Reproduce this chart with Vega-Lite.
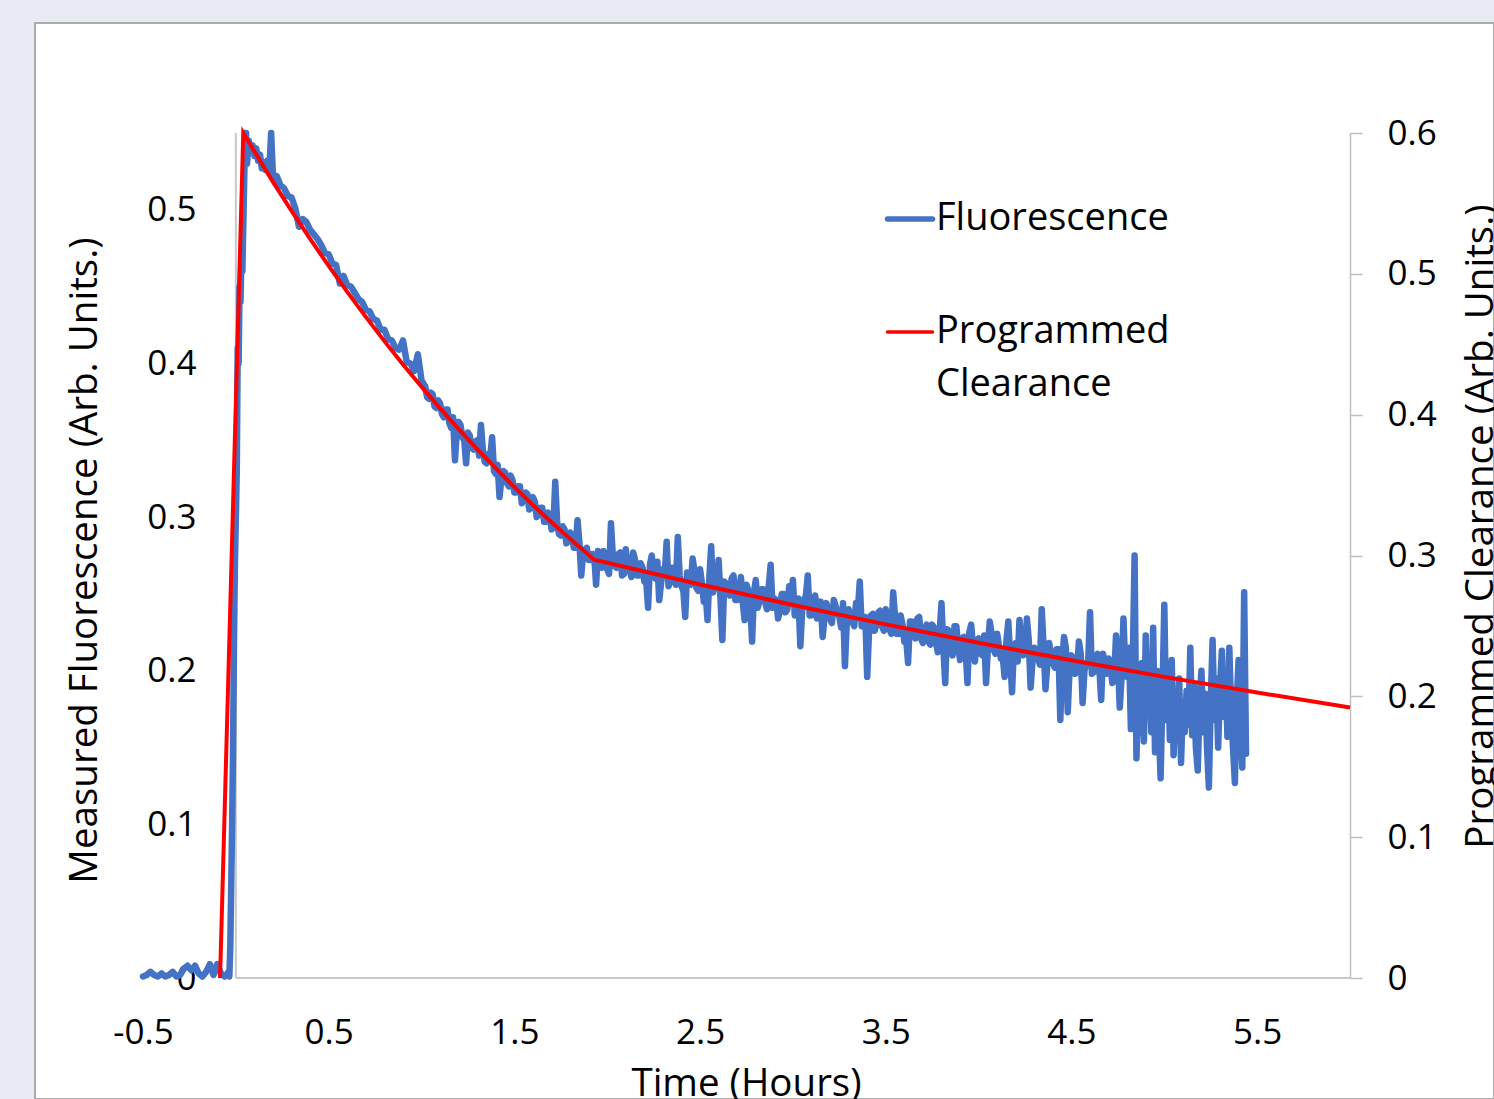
{
"$schema": "https://vega.github.io/schema/vega-lite/v6.json",
"width": 1459, "height": 1076,
"autosize": "none",
"padding": {"left": 35, "top": 23, "right": 0, "bottom": 0},
"background": "#e8ebf4",
"config": {
  "view": {"fill": "#ffffff", "stroke": "#acacac", "strokeWidth": 2},
  "font": "Open Sans",
  "axis": {"labelFont": "Open Sans", "titleFont": "Open Sans", "labelFontSize": 35, "titleFontSize": 38.5, "labelColor": "#000000", "titleColor": "#000000", "titleFontWeight": "normal", "grid": false, "labelFlush": false, "labelOverlap": false, "labelBound": false}
},
"datasets": {
"fluor": [
{"t":-0.5,"f":0.001},{"t":-0.48,"f":0.002},{"t":-0.46,"f":0.004},{"t":-0.44,"f":0.002},{"t":-0.42,"f":0.001},{"t":-0.4,"f":0.003},{"t":-0.38,"f":0.001},{"t":-0.36,"f":0.002},{"t":-0.34,"f":0.004},{"t":-0.32,"f":0.001},{"t":-0.3,"f":0.002},{"t":-0.28,"f":0.006},{"t":-0.26,"f":0.008},{"t":-0.24,"f":0.005},{"t":-0.22,"f":0.008},{"t":-0.2,"f":0.003},{"t":-0.18,"f":0.001},{"t":-0.16,"f":0.004},{"t":-0.14,"f":0.009},{"t":-0.12,"f":0.002},{"t":-0.1,"f":0.009},{"t":-0.08,"f":0.003},{"t":-0.06,"f":0.001},{"t":-0.05,"f":0.002},{"t":-0.04,"f":0.004},{"t":-0.035,"f":0.001},
{"t":-0.03,"f":0.02},{"t":-0.02,"f":0.1},{"t":-0.015,"f":0.15},{"t":-0.01,"f":0.22},{"t":-0.005,"f":0.27},{"t":0,"f":0.3},{"t":0.005,"f":0.33},{"t":0.01,"f":0.41},{"t":0.015,"f":0.4},{"t":0.02,"f":0.45},{"t":0.025,"f":0.44},{"t":0.03,"f":0.47},{"t":0.035,"f":0.46},{"t":0.04,"f":0.49},{"t":0.045,"f":0.52},{"t":0.05,"f":0.55},{"t":0.055,"f":0.555},{"t":0.06,"f":0.53},
{"t":0.07,"f":0.545},{"t":0.08,"f":0.538},{"t":0.09,"f":0.542},{"t":0.1,"f":0.535},{"t":0.11,"f":0.54},{"t":0.12,"f":0.532},{"t":0.13,"f":0.536},{"t":0.14,"f":0.527},{"t":0.15,"f":0.531},{"t":0.16,"f":0.526},{"t":0.17,"f":0.532},{"t":0.18,"f":0.524},{"t":0.19,"f":0.555},{"t":0.2,"f":0.522},{"t":0.21,"f":0.518},
{"t":0.22,"f":0.522},{"t":0.24,"f":0.516},{"t":0.26,"f":0.514},{"t":0.28,"f":0.509},{"t":0.3,"f":0.508},{"t":0.32,"f":0.501},{"t":0.34,"f":0.489},{"t":0.36,"f":0.494},{"t":0.38,"f":0.492},{"t":0.4,"f":0.487},{"t":0.42,"f":0.484},{"t":0.44,"f":0.481},{"t":0.46,"f":0.477},{"t":0.48,"f":0.472},{"t":0.5,"f":0.471},{"t":0.52,"f":0.465},{"t":0.54,"f":0.464},{"t":0.56,"f":0.452},{"t":0.58,"f":0.457},{"t":0.6,"f":0.451},{"t":0.62,"f":0.45},{"t":0.64,"f":0.446},{"t":0.66,"f":0.442},{"t":0.68,"f":0.44},{"t":0.7,"f":0.435},{"t":0.72,"f":0.434},{"t":0.74,"f":0.429},{"t":0.76,"f":0.428},{"t":0.78,"f":0.422},{"t":0.8,"f":0.422},{"t":0.82,"f":0.416},{"t":0.84,"f":0.415},{"t":0.86,"f":0.41},{"t":0.88,"f":0.409},{"t":0.9,"f":0.415},{"t":0.92,"f":0.401},{"t":0.94,"f":0.4},{"t":0.96,"f":0.395},{"t":0.98,"f":0.406},{"t":1.0,"f":0.389},
{"t":1.01,"f":0.387},{"t":1.02,"f":0.385},{"t":1.03,"f":0.378},{"t":1.04,"f":0.377},{"t":1.05,"f":0.381},{"t":1.06,"f":0.38},{"t":1.07,"f":0.372},{"t":1.08,"f":0.371},{"t":1.09,"f":0.376},{"t":1.1,"f":0.374},{"t":1.11,"f":0.367},{"t":1.12,"f":0.365},{"t":1.13,"f":0.37},{"t":1.14,"f":0.37},{"t":1.15,"f":0.361},{"t":1.16,"f":0.358},{"t":1.17,"f":0.365},{"t":1.18,"f":0.337},{"t":1.19,"f":0.356},{"t":1.2,"f":0.362},{"t":1.21,"f":0.36},{"t":1.22,"f":0.352},{"t":1.23,"f":0.35},{"t":1.24,"f":0.335},{"t":1.25,"f":0.355},{"t":1.26,"f":0.353},{"t":1.27,"f":0.345},{"t":1.28,"f":0.344},{"t":1.29,"f":0.349},{"t":1.3,"f":0.35},{"t":1.31,"f":0.34},{"t":1.32,"f":0.36},{"t":1.33,"f":0.344},{"t":1.34,"f":0.336},{"t":1.35,"f":0.335},{"t":1.36,"f":0.341},{"t":1.37,"f":0.339},{"t":1.38,"f":0.352},{"t":1.39,"f":0.33},{"t":1.4,"f":0.328},{"t":1.41,"f":0.334},{"t":1.42,"f":0.313},{"t":1.43,"f":0.325},{"t":1.44,"f":0.33},{"t":1.45,"f":0.329},{"t":1.46,"f":0.322},{"t":1.47,"f":0.32},{"t":1.48,"f":0.327},{"t":1.49,"f":0.324},{"t":1.5,"f":0.316},{"t":1.51,"f":0.316},{"t":1.52,"f":0.32},{"t":1.53,"f":0.32},{"t":1.54,"f":0.309},{"t":1.55,"f":0.311},{"t":1.56,"f":0.316},{"t":1.57,"f":0.315},{"t":1.58,"f":0.305},{"t":1.59,"f":0.306},{"t":1.6,"f":0.313},{"t":1.61,"f":0.31},{"t":1.62,"f":0.3},{"t":1.63,"f":0.302},{"t":1.64,"f":0.306},{"t":1.65,"f":0.306},{"t":1.66,"f":0.297},{"t":1.67,"f":0.297},{"t":1.68,"f":0.303},{"t":1.69,"f":0.301},{"t":1.7,"f":0.292},{"t":1.71,"f":0.293},{"t":1.72,"f":0.323},{"t":1.73,"f":0.297},{"t":1.74,"f":0.289},{"t":1.75,"f":0.288},{"t":1.76,"f":0.294},{"t":1.77,"f":0.292},{"t":1.78,"f":0.283},{"t":1.79,"f":0.284},{"t":1.8,"f":0.29},{"t":1.81,"f":0.288},{"t":1.82,"f":0.28},{"t":1.83,"f":0.28},{"t":1.84,"f":0.298},{"t":1.85,"f":0.284},{"t":1.86,"f":0.262},{"t":1.87,"f":0.276},{"t":1.88,"f":0.279},{"t":1.89,"f":0.28},{"t":1.9,"f":0.272},{"t":1.91,"f":0.272},{"t":1.92,"f":0.276},{"t":1.93,"f":0.275},{"t":1.94,"f":0.256},{"t":1.95,"f":0.278},{"t":1.96,"f":0.27},{"t":1.97,"f":0.267},{"t":1.98,"f":0.278},{"t":1.99,"f":0.273},{"t":2.0,"f":0.266},
{"t":2.01,"f":0.263},{"t":2.02,"f":0.296},{"t":2.03,"f":0.275},{"t":2.04,"f":0.268},{"t":2.05,"f":0.267},{"t":2.06,"f":0.276},{"t":2.07,"f":0.277},{"t":2.08,"f":0.262},{"t":2.09,"f":0.263},{"t":2.1,"f":0.279},{"t":2.11,"f":0.268},{"t":2.12,"f":0.266},{"t":2.13,"f":0.261},{"t":2.14,"f":0.277},{"t":2.15,"f":0.272},{"t":2.16,"f":0.262},{"t":2.17,"f":0.262},{"t":2.18,"f":0.27},{"t":2.19,"f":0.267},{"t":2.2,"f":0.258},{"t":2.21,"f":0.258},{"t":2.22,"f":0.241},{"t":2.23,"f":0.269},{"t":2.24,"f":0.275},{"t":2.25,"f":0.262},{"t":2.26,"f":0.26},{"t":2.27,"f":0.271},{"t":2.28,"f":0.246},{"t":2.29,"f":0.257},{"t":2.3,"f":0.266},{"t":2.31,"f":0.263},{"t":2.32,"f":0.284},{"t":2.33,"f":0.255},{"t":2.34,"f":0.258},{"t":2.35,"f":0.267},{"t":2.36,"f":0.265},{"t":2.37,"f":0.256},{"t":2.38,"f":0.287},{"t":2.39,"f":0.262},{"t":2.4,"f":0.255},{"t":2.41,"f":0.252},{"t":2.42,"f":0.235},{"t":2.43,"f":0.264},{"t":2.44,"f":0.262},{"t":2.45,"f":0.256},{"t":2.46,"f":0.273},{"t":2.47,"f":0.265},{"t":2.48,"f":0.254},{"t":2.49,"f":0.252},{"t":2.5,"f":0.266},{"t":2.51,"f":0.257},{"t":2.52,"f":0.245},{"t":2.53,"f":0.25},{"t":2.54,"f":0.233},{"t":2.55,"f":0.261},{"t":2.56,"f":0.281},{"t":2.57,"f":0.251},{"t":2.58,"f":0.256},{"t":2.59,"f":0.256},{"t":2.6,"f":0.272},{"t":2.61,"f":0.247},{"t":2.62,"f":0.22},{"t":2.63,"f":0.258},{"t":2.64,"f":0.257},{"t":2.65,"f":0.25},{"t":2.66,"f":0.249},{"t":2.67,"f":0.26},{"t":2.68,"f":0.262},{"t":2.69,"f":0.246},{"t":2.7,"f":0.246},{"t":2.71,"f":0.252},{"t":2.72,"f":0.261},{"t":2.73,"f":0.244},{"t":2.74,"f":0.233},{"t":2.75,"f":0.256},{"t":2.76,"f":0.252},{"t":2.77,"f":0.245},{"t":2.78,"f":0.219},{"t":2.79,"f":0.251},{"t":2.8,"f":0.259},{"t":2.81,"f":0.241},{"t":2.82,"f":0.245},{"t":2.83,"f":0.253},{"t":2.84,"f":0.253},{"t":2.85,"f":0.245},{"t":2.86,"f":0.24},{"t":2.87,"f":0.255},{"t":2.88,"f":0.269},{"t":2.89,"f":0.241},{"t":2.9,"f":0.247},{"t":2.91,"f":0.246},{"t":2.92,"f":0.234},{"t":2.93,"f":0.239},{"t":2.94,"f":0.25},{"t":2.95,"f":0.25},{"t":2.96,"f":0.238},{"t":2.97,"f":0.24},{"t":2.98,"f":0.255},{"t":2.99,"f":0.245},{"t":3.0,"f":0.259},
{"t":3.01,"f":0.236},{"t":3.02,"f":0.24},{"t":3.03,"f":0.247},{"t":3.04,"f":0.216},{"t":3.05,"f":0.24},{"t":3.06,"f":0.246},{"t":3.07,"f":0.249},{"t":3.08,"f":0.262},{"t":3.09,"f":0.236},{"t":3.1,"f":0.236},{"t":3.11,"f":0.241},{"t":3.12,"f":0.249},{"t":3.13,"f":0.234},{"t":3.14,"f":0.237},{"t":3.15,"f":0.245},{"t":3.16,"f":0.222},{"t":3.17,"f":0.234},{"t":3.18,"f":0.244},{"t":3.19,"f":0.24},{"t":3.2,"f":0.234},{"t":3.21,"f":0.231},{"t":3.22,"f":0.246},{"t":3.23,"f":0.242},{"t":3.24,"f":0.238},{"t":3.25,"f":0.235},{"t":3.26,"f":0.228},{"t":3.27,"f":0.244},{"t":3.28,"f":0.203},{"t":3.29,"f":0.231},{"t":3.3,"f":0.24},{"t":3.31,"f":0.236},{"t":3.32,"f":0.232},{"t":3.33,"f":0.229},{"t":3.34,"f":0.244},{"t":3.35,"f":0.24},{"t":3.36,"f":0.258},{"t":3.37,"f":0.229},{"t":3.38,"f":0.23},{"t":3.39,"f":0.235},{"t":3.4,"f":0.196},{"t":3.41,"f":0.226},{"t":3.42,"f":0.236},{"t":3.43,"f":0.237},{"t":3.44,"f":0.226},{"t":3.45,"f":0.23},{"t":3.46,"f":0.238},{"t":3.47,"f":0.239},{"t":3.48,"f":0.229},{"t":3.49,"f":0.226},{"t":3.5,"f":0.24},{"t":3.51,"f":0.231},{"t":3.52,"f":0.227},{"t":3.53,"f":0.224},{"t":3.54,"f":0.251},{"t":3.55,"f":0.235},{"t":3.56,"f":0.224},{"t":3.57,"f":0.224},{"t":3.58,"f":0.236},{"t":3.59,"f":0.23},{"t":3.6,"f":0.219},{"t":3.61,"f":0.221},{"t":3.62,"f":0.205},{"t":3.63,"f":0.232},{"t":3.64,"f":0.232},{"t":3.65,"f":0.225},{"t":3.66,"f":0.221},{"t":3.67,"f":0.234},{"t":3.68,"f":0.235},{"t":3.69,"f":0.221},{"t":3.7,"f":0.218},{"t":3.71,"f":0.226},{"t":3.72,"f":0.23},{"t":3.73,"f":0.219},{"t":3.74,"f":0.217},{"t":3.75,"f":0.23},{"t":3.76,"f":0.228},{"t":3.77,"f":0.219},{"t":3.78,"f":0.212},{"t":3.79,"f":0.225},{"t":3.8,"f":0.244},{"t":3.81,"f":0.216},{"t":3.82,"f":0.192},{"t":3.83,"f":0.227},{"t":3.84,"f":0.226},{"t":3.85,"f":0.22},{"t":3.86,"f":0.21},{"t":3.87,"f":0.229},{"t":3.88,"f":0.229},{"t":3.89,"f":0.216},{"t":3.9,"f":0.207},{"t":3.91,"f":0.221},{"t":3.92,"f":0.222},{"t":3.93,"f":0.214},{"t":3.94,"f":0.192},{"t":3.95,"f":0.225},{"t":3.96,"f":0.23},{"t":3.97,"f":0.214},{"t":3.98,"f":0.206},{"t":3.99,"f":0.22},{"t":4.0,"f":0.221},
{"t":4.01,"f":0.211},{"t":4.02,"f":0.21},{"t":4.03,"f":0.223},{"t":4.04,"f":0.192},{"t":4.05,"f":0.215},{"t":4.06,"f":0.232},{"t":4.07,"f":0.224},{"t":4.08,"f":0.214},{"t":4.09,"f":0.211},{"t":4.1,"f":0.224},{"t":4.11,"f":0.216},{"t":4.12,"f":0.208},{"t":4.13,"f":0.209},{"t":4.14,"f":0.196},{"t":4.15,"f":0.22},{"t":4.16,"f":0.232},{"t":4.17,"f":0.209},{"t":4.18,"f":0.186},{"t":4.19,"f":0.215},{"t":4.2,"f":0.218},{"t":4.21,"f":0.206},{"t":4.22,"f":0.233},{"t":4.23,"f":0.218},{"t":4.24,"f":0.21},{"t":4.25,"f":0.211},{"t":4.26,"f":0.234},{"t":4.27,"f":0.22},{"t":4.28,"f":0.189},{"t":4.29,"f":0.206},{"t":4.3,"f":0.215},{"t":4.31,"f":0.211},{"t":4.32,"f":0.208},{"t":4.33,"f":0.204},{"t":4.34,"f":0.24},{"t":4.35,"f":0.215},{"t":4.36,"f":0.188},{"t":4.37,"f":0.204},{"t":4.38,"f":0.218},{"t":4.39,"f":0.21},{"t":4.4,"f":0.205},{"t":4.41,"f":0.202},{"t":4.42,"f":0.214},{"t":4.43,"f":0.214},{"t":4.44,"f":0.168},{"t":4.45,"f":0.206},{"t":4.46,"f":0.222},{"t":4.47,"f":0.215},{"t":4.48,"f":0.173},{"t":4.49,"f":0.202},{"t":4.5,"f":0.21},{"t":4.51,"f":0.207},{"t":4.52,"f":0.198},{"t":4.53,"f":0.2},{"t":4.54,"f":0.219},{"t":4.55,"f":0.211},{"t":4.56,"f":0.179},{"t":4.57,"f":0.2},{"t":4.58,"f":0.205},{"t":4.59,"f":0.206},{"t":4.6,"f":0.238},{"t":4.61,"f":0.198},{"t":4.62,"f":0.199},{"t":4.63,"f":0.209},{"t":4.64,"f":0.211},{"t":4.65,"f":0.202},{"t":4.66,"f":0.181},{"t":4.67,"f":0.211},{"t":4.68,"f":0.204},{"t":4.69,"f":0.198},{"t":4.7,"f":0.208},{"t":4.71,"f":0.203},{"t":4.72,"f":0.192},{"t":4.73,"f":0.196},{"t":4.74,"f":0.223},{"t":4.75,"f":0.207},{"t":4.76,"f":0.176},{"t":4.77,"f":0.196},{"t":4.78,"f":0.234},{"t":4.79,"f":0.202},{"t":4.8,"f":0.196},{"t":4.81,"f":0.215},{"t":4.82,"f":0.162},
{"t":4.83,"f":0.205},{"t":4.84,"f":0.275},{"t":4.85,"f":0.143},{"t":4.86,"f":0.19},{"t":4.87,"f":0.16},{"t":4.88,"f":0.205},{"t":4.89,"f":0.154},{"t":4.9,"f":0.223},{"t":4.91,"f":0.172},{"t":4.92,"f":0.195},{"t":4.93,"f":0.16},{"t":4.94,"f":0.228},{"t":4.95,"f":0.147},{"t":4.96,"f":0.2},{"t":4.97,"f":0.165},{"t":4.98,"f":0.13},{"t":4.99,"f":0.185},{"t":5.0,"f":0.243},{"t":5.01,"f":0.168},{"t":5.02,"f":0.2},{"t":5.03,"f":0.155},{"t":5.04,"f":0.207},{"t":5.05,"f":0.145},{"t":5.06,"f":0.18},{"t":5.07,"f":0.16},{"t":5.08,"f":0.195},{"t":5.09,"f":0.14},{"t":5.1,"f":0.178},{"t":5.11,"f":0.16},{"t":5.12,"f":0.187},{"t":5.13,"f":0.165},{"t":5.14,"f":0.215},{"t":5.15,"f":0.158},{"t":5.16,"f":0.19},{"t":5.17,"f":0.15},{"t":5.18,"f":0.135},{"t":5.19,"f":0.178},{"t":5.2,"f":0.2},{"t":5.21,"f":0.16},{"t":5.22,"f":0.185},{"t":5.23,"f":0.15},{"t":5.24,"f":0.124},{"t":5.25,"f":0.18},{"t":5.26,"f":0.22},{"t":5.27,"f":0.168},{"t":5.28,"f":0.195},{"t":5.29,"f":0.15},{"t":5.3,"f":0.19},{"t":5.31,"f":0.213},{"t":5.32,"f":0.17},{"t":5.33,"f":0.195},{"t":5.34,"f":0.157},{"t":5.35,"f":0.215},{"t":5.36,"f":0.175},{"t":5.37,"f":0.15},{"t":5.38,"f":0.127},{"t":5.39,"f":0.18},{"t":5.4,"f":0.207},{"t":5.41,"f":0.17},{"t":5.42,"f":0.137},{"t":5.43,"f":0.251},{"t":5.44,"f":0.146}
],
"prog": [
{"t":-0.085,"c":0},{"t":0.04,"c":0.6},{"t":0.1,"c":0.5868},{"t":0.2,"c":0.5653},{"t":0.3,"c":0.5447},{"t":0.4,"c":0.5248},{"t":0.5,"c":0.5056},{"t":0.6,"c":0.4872},{"t":0.7,"c":0.4694},{"t":0.8,"c":0.4522},{"t":0.9,"c":0.4357},{"t":1.0,"c":0.4198},{"t":1.1,"c":0.4045},{"t":1.2,"c":0.3897},{"t":1.3,"c":0.3755},{"t":1.4,"c":0.3618},{"t":1.5,"c":0.3486},{"t":1.6,"c":0.3358},{"t":1.7,"c":0.3236},{"t":1.8,"c":0.3118},{"t":1.93,"c":0.297},{"t":2.5,"c":0.2794},{"t":3.0,"c":0.2649},{"t":3.5,"c":0.2511},{"t":4.0,"c":0.238},{"t":4.5,"c":0.2256},{"t":5.0,"c":0.2138},{"t":5.5,"c":0.2027},{"t":6.0,"c":0.1921}
]
},
"layer": [
  {"layer": [
    {"data": {"values": [{}]}, "mark": {"type": "rule", "color": "#c8c8c8", "strokeWidth": 2},
     "encoding": {"x": {"datum": 0, "type": "quantitative"}, "y": {"datum": 0, "type": "quantitative"}, "y2": {"datum": 0.55}}},
    {"data": {"values": [{}]}, "mark": {"type": "rule", "color": "#c8c8c8", "strokeWidth": 2},
     "encoding": {"x": {"datum": 0, "type": "quantitative"}, "x2": {"datum": 6}, "y": {"datum": 0, "type": "quantitative"}}},
    {"data": {"name": "fluor"},
     "mark": {"type": "line", "strokeWidth": 6.5, "strokeJoin": "round", "strokeCap": "round"},
     "encoding": {
       "x": {"field": "t", "type": "quantitative",
             "scale": {"domain": [-0.5, 6], "range": [108, 1315], "nice": false, "zero": false},
             "axis": {"values": [-0.5, 0.5, 1.5, 2.5, 3.5, 4.5, 5.5], "labelExpr": "'' + datum.value", "offset": -121, "domain": false, "ticks": false, "labelPadding": 37,
                      "title": "Time (Hours)", "titleX": 711, "titleY": 117, "titleBaseline": "alphabetic", "titleAlign": "center"}},
       "y": {"field": "f", "type": "quantitative",
             "scale": {"domain": [0, 0.55], "range": [955, 110], "nice": false, "zero": false, "clamp": true},
             "axis": {"values": [0, 0.1, 0.2, 0.3, 0.4, 0.5], "labelExpr": "'' + datum.value", "offset": -163, "domain": false, "ticks": false, "labelPadding": 2,
                      "title": "Measured Fluorescence (Arb. Units.)", "titleX": -114, "titleY": 537, "titleAngle": 270, "titleBaseline": "middle", "titleAlign": "center"}},
       "color": {"datum": "Fluorescence", "type": "nominal",
                 "scale": {"domain": ["Fluorescence", "Programmed Clearance"], "range": ["#4472C4", "#FF0000"]},
                 "legend": {"orient": "none", "legendX": 856, "legendY": 177, "title": null, "padding": 0,
                            "symbolType": "stroke", "symbolSize": 2025, "symbolStrokeWidth": 4,
                            "labelFont": "Open Sans", "labelFontSize": 38, "labelColor": "#000000", "labelLimit": 600, "labelOffset": 7,
                            "rowPadding": 75,
                            "labelExpr": "datum.label == 'Programmed Clearance' ? ['Programmed', 'Clearance'] : datum.label",
                            "encode": {"labels": {"update": {"lineHeight": {"value": 53}}},
                                       "symbols": {"update": {"strokeWidth": {"signal": "datum.value == 'Fluorescence' ? 5.5 : 3.5"}, "strokeCap": {"value": "round"}}}}}}
     }}
  ]},
  {"data": {"name": "prog"},
   "mark": {"type": "line", "strokeWidth": 4, "strokeJoin": "miter"},
   "encoding": {
     "x": {"field": "t", "type": "quantitative"},
     "y": {"field": "c", "type": "quantitative",
           "scale": {"domain": [0, 0.6], "range": [955, 110], "nice": false, "zero": false},
           "axis": {"orient": "right", "values": [0, 0.1, 0.2, 0.3, 0.4, 0.5, 0.6], "labelExpr": "'' + datum.value", "offset": -144,
                    "domain": true, "domainColor": "#bfbfbf", "domainWidth": 1.5, "ticks": true, "tickColor": "#bfbfbf", "tickSize": 12, "tickWidth": 1.5, "labelPadding": 25,
                    "title": "Programmed Clearance (Arb. Units.)", "titleX": 130, "titleY": 503, "titleAngle": 270, "titleBaseline": "middle", "titleAlign": "center"}},
     "color": {"datum": "Programmed Clearance", "type": "nominal",
               "scale": {"domain": ["Fluorescence", "Programmed Clearance"], "range": ["#4472C4", "#FF0000"]}}
   }}
],
"resolve": {"scale": {"y": "independent"}}
}
